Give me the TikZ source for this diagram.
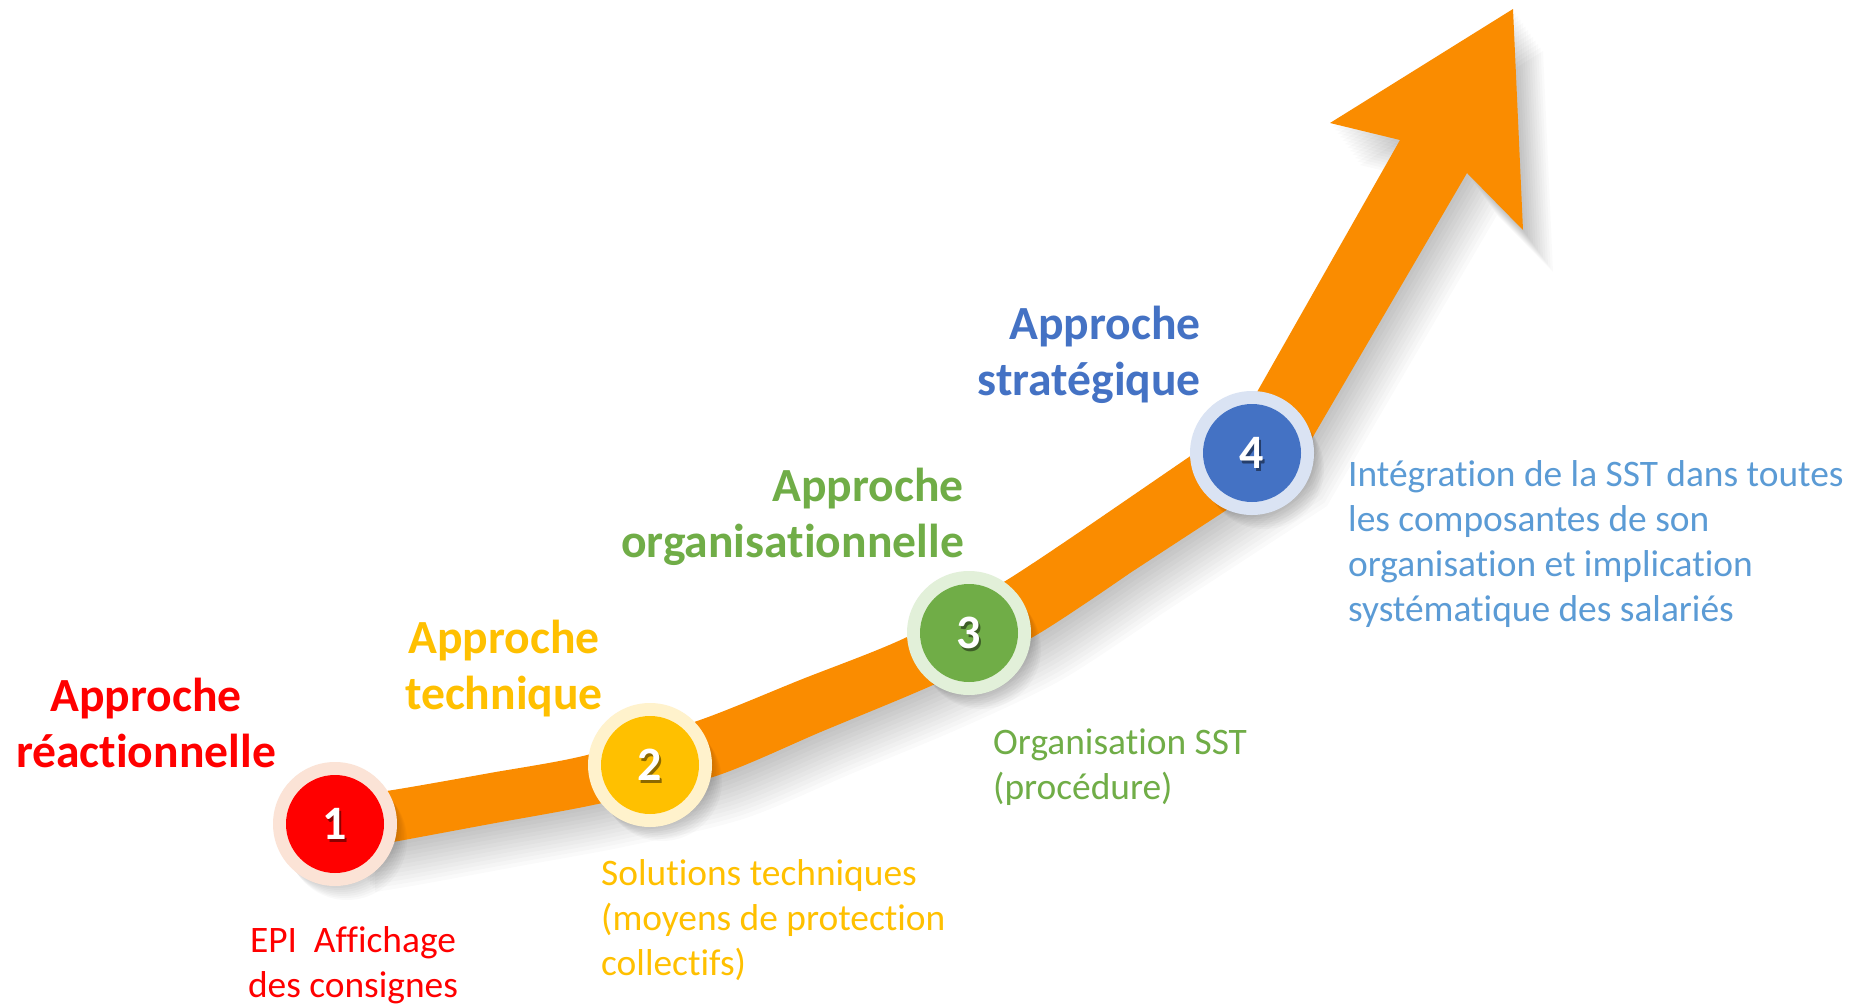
\documentclass[tikz,border=0pt]{standalone}
\usepackage{fontspec}
\setmainfont{Carlito}[Ligatures={NoCommon,NoContextual,NoRare}, Contextuals={NoAlternate}]
\definecolor{arrowor}{RGB}{250,140,0}
\definecolor{cRed}{HTML}{FF0000}
\definecolor{cGold}{HTML}{FFC000}
\definecolor{cGreen}{HTML}{70AD47}
\definecolor{cBlue}{HTML}{4472C4}
\definecolor{cBlueL}{HTML}{5B9BD5}
\definecolor{rRed}{HTML}{FBE3D6}
\definecolor{rGold}{HTML}{FFF2CC}
\definecolor{rGreen}{HTML}{E2F0D9}
\definecolor{rBlue}{HTML}{DAE3F3}
\newcommand\ArrowShape[1]{%
  \fill[#1] plot[smooth,tension=0.5] coordinates {(345,796) (393,790) (490,773) (587,755) (700,720) (800,680) (907,637) (1007,580) (1100,518)}
  -- (1240,422) -- (1400,140)
  -- (1330,123) -- (1513,9) -- (1523,230) -- (1467,173)
  -- (1297,464) -- (1130,573)
  -- plot[smooth,tension=0.5] coordinates {(1130,573) (1033,637) (933,685) (823,731) (713,777) (593,805) (490,824) (393,842) (345,850)} -- cycle;}
\newcommand\StepCircle[5]{%
  \foreach \k in {1,...,8}{\fill[black,opacity=0.025] ([shift={(\k*1.5,\k*2)}]#2) circle[radius=60pt];}
  \node[ring, fill=#3] (ring#1) at (#2) {};
  \node[disc, fill=#4] (disc#1) at (#2) {};
  \node[numtxt, text=black, opacity=0.45] (numsh#1) at ([shift={(2,2.5)}]disc#1.center) {#5};
  \node[numtxt, text=white] (num#1) at (disc#1.center) {#5};
}
\begin{document}
\begin{tikzpicture}[x=1pt,y=-1pt,
  head/.style={font=\bfseries\fontsize{47.6}{56}\selectfont, inner sep=0pt},
  body/.style={font=\fontsize{37.4}{45}\selectfont, inner sep=0pt},
  ring/.style={circle, minimum size=124pt, inner sep=0pt},
  disc/.style={circle, minimum size=98pt, inner sep=0pt},
  numtxt/.style={inner sep=0pt, font=\bfseries\fontsize{48}{48}\selectfont}]
\fill[white] (0,0) rectangle (1864,1007);
\useasboundingbox (0,0) rectangle (1864,1007);
% arrow shadow
\foreach \k in {1,...,12}{
  \begin{scope}[shift={(2.5*\k,3.5*\k)}]
    \ArrowShape{black,opacity=0.018}
  \end{scope}}
\ArrowShape{arrowor}
% steps
\StepCircle{1}{335,824}{rRed}{cRed}{1}
\StepCircle{2}{650,765}{rGold}{cGold}{2}
\StepCircle{3}{969,633}{rGreen}{cGreen}{3}
\StepCircle{4}{1252,453}{rBlue}{cBlue}{4}
% headings
\node[head, text=cRed, align=center] (h1) at (146,728) {\strut Approche\\\strut réactionnelle};
\node[head, text=cGold, align=center] (h2) at (504,670) {\strut Approche\\\strut technique};
\node[head, text=cGreen, align=right, anchor=east] (h3) at (964,518) {\strut Approche\\\strut organisationnelle};
\node[head, text=cBlue, align=right, anchor=east] (h4) at (1201,356) {\strut Approche\\\strut stratégique};
% descriptions
\node[body, text=cRed, align=center] (d1) at (353,966) {\strut EPI~ Affichage\\\strut des consignes};
\node[body, text=cGold, align=left, anchor=west] (d2) at (601,921) {\strut Solutions techniques\\\strut (moyens de protection\\\strut collectifs)};
\node[body, text=cGreen, align=left, anchor=west] (d3) at (993,768) {\strut Organisation SST\\\strut (procédure)};
\node[body, text=cBlueL, align=left, anchor=west] (d4) at (1348,545) {\strut Intégration de la SST dans toutes\\\strut les composantes de son\\\strut organisation et implication\\\strut systématique des salariés};
\end{tikzpicture}
\end{document}
